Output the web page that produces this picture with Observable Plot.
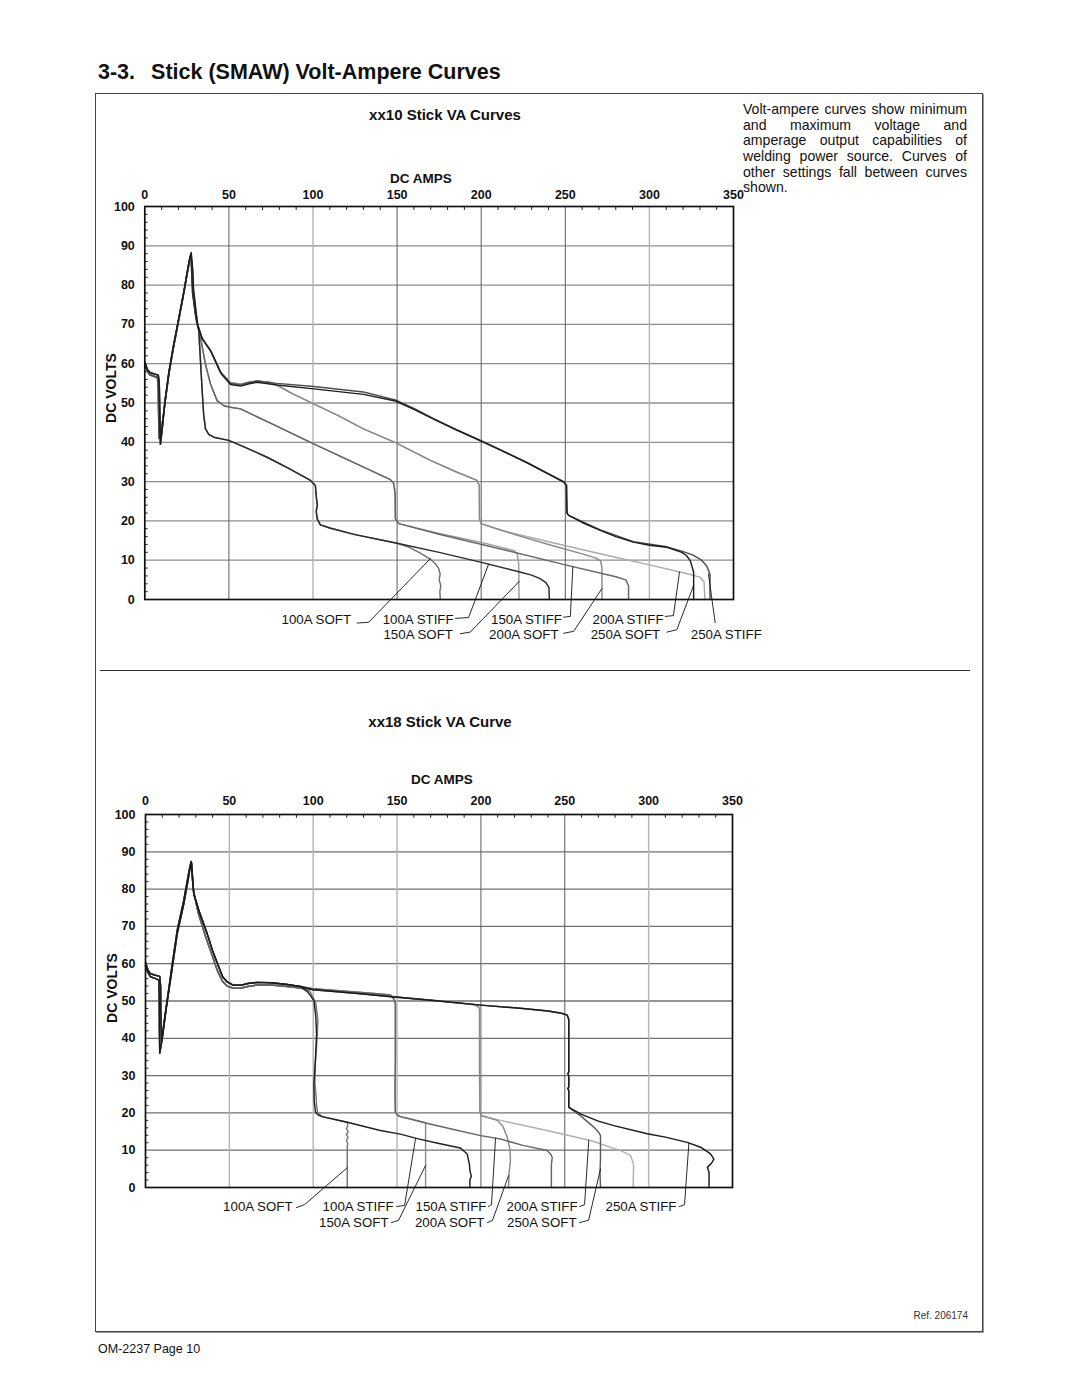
<!DOCTYPE html>
<html>
<head>
<meta charset="utf-8">
<script src="https://cdn.jsdelivr.net/npm/d3@7"></script>
<script src="https://cdn.jsdelivr.net/npm/@observablehq/plot@0.6"></script>
<style>
  body { margin: 0; background: #fff; }
  #page { position: relative; width: 1080px; height: 1397px; background: #fff;
          font-family: "Liberation Sans", Arial, Helvetica, sans-serif; color: #111; overflow: hidden; }
  .abs { position: absolute; white-space: nowrap; line-height: 1; }
  .b { font-weight: bold; }
  .para div { width: 224px; font-size: 14.1px; line-height: 15.6px; text-align: justify; text-align-last: justify; white-space: normal; }
  .para div.last { text-align-last: left; }
  .chart { position: absolute; }
</style>
</head>
<body>
<div id="page">
  <div class="abs b" style="left:98px;top:62px;font-size:21.5px;">3-3.<span style="margin-left:16px;">Stick (SMAW) Volt-Ampere Curves</span></div>
  <div class="abs" style="left:95px;top:93px;width:888px;height:1239px;box-sizing:border-box;border:1px solid #444;box-shadow:1px 1px 0 #999;"></div>
  <div class="abs" style="left:100px;top:670px;width:870px;height:0;border-top:1px solid #333;"></div>

  <div class="abs b" style="left:445px;top:107px;font-size:15px;transform:translateX(-50%);">xx10 Stick VA Curves</div>
  <div class="abs b" style="left:421px;top:171.5px;font-size:13.5px;transform:translateX(-50%);">DC AMPS</div>
  <div class="abs b" style="left:111px;top:388px;font-size:14px;transform:translate(-50%,-50%) rotate(-90deg);">DC VOLTS</div>

  <div class="abs para" style="left:743px;top:102.3px;">
    <div>Volt-ampere curves show minimum</div>
    <div>and maximum voltage and</div>
    <div>amperage output capabilities of</div>
    <div>welding power source. Curves of</div>
    <div>other settings fall between curves</div>
    <div class="last">shown.</div>
  </div>

  <div class="abs b" style="left:440px;top:713.6px;font-size:15px;transform:translateX(-50%);">xx18 Stick VA Curve</div>
  <div class="abs b" style="left:442px;top:773.4px;font-size:13.5px;transform:translateX(-50%);">DC AMPS</div>
  <div class="abs b" style="left:112px;top:988px;font-size:14px;transform:translate(-50%,-50%) rotate(-90deg);">DC VOLTS</div>

  <div class="abs" style="right:112px;top:1311px;font-size:10px;color:#333;">Ref. 206174</div>
  <div class="abs" style="left:98px;top:1343px;font-size:12.5px;">OM-2237 Page 10</div>

  <div id="top" class="chart" style="left:90px;top:160px;"></div>
  <div id="bottom" class="chart" style="left:90px;top:760px;"></div>
</div>
<script>
// ---------- axes / ticks ----------
const ampTicks = [0, 50, 100, 150, 200, 250, 300, 350];
const voltTicks = [0, 10, 20, 30, 40, 50, 60, 70, 80, 90, 100];
const voltGrid = [10, 20, 30, 40, 50, 60, 70, 80, 90];
const ampMinor = [10, 20, 30, 40, 60, 70, 80, 90, 110, 120, 130, 140, 160, 170, 180, 190, 210, 220, 230, 240, 260, 270, 280, 290, 310, 320, 330, 340];
const voltMinor = [2, 4, 6, 8, 12, 14, 16, 18, 22, 24, 26, 28, 32, 34, 36, 38, 42, 44, 46, 48, 52, 54, 56, 58, 62, 64, 66, 68, 72, 74, 76, 78, 82, 84, 86, 88, 92, 94, 96, 98];
const xx10DarkGrid = [50, 150, 200, 250];
const xx10LightGrid = [100, 300];
const xx18DarkGrid = [200, 250];
const xx18LightGrid = [50, 100, 150, 300];

const labelNames = ["100A SOFT", "100A STIFF", "150A SOFT", "150A STIFF", "200A SOFT", "200A STIFF", "250A SOFT", "250A STIFF"];

// ---------- xx10 curve pieces [amps, volts] ----------
const xx10StartA = [[0,60.5],[1.5,58.5],[3,57.8],[5.5,57.4],[8,57.1],[8.6,55],[9,45],[9.3,39.5],[10.5,44],[12,50.5],[14.3,57.8],[17,64.5],[19.6,70.2],[23.2,78.3],[25.5,84],[26.8,87],[27.6,88.2]];
const xx10StartB = [[0,60],[1.5,58],[3,57.2],[5.5,56.8],[7.5,56.5],[8,54],[8.3,45],[8.6,41],[10,43.5],[12,50],[14.3,57.3],[17,64],[19.6,69.8],[23.2,78],[25.5,83.6],[26.8,86.6],[27.4,87.6]];
const xx10Knee100 = [[27.8,84],[28.4,78],[30.3,72],[32.1,68.4],[33.2,60],[34.1,53.2],[35,47],[36.1,43.4],[38,42],[41,41.3],[49.9,40.5],[56.9,39.2],[65,37.7],[72.7,36.2],[85,33.5],[98.5,30.3],[101.4,29],[102,26],[102.6,24],[101.9,22.5],[102.5,20.5],[104.4,19]];
const xx10Knee150 = [[28,84],[28.6,78],[30.5,72],[33.1,66.7],[36,60],[39,54.9],[43,50.6],[47,49.3],[50.9,48.9],[56.9,48.5],[75,44.8],[100.4,39.6],[125,34.7],[146,30.5],[148,29.5],[148.8,27],[149,20.5],[151,19.3]];
const xx10Knee200 = [[28.1,84],[28.6,79],[29.8,74],[30.9,70.2],[33.8,66.7],[38.8,63.6],[44.8,58],[50.8,55.2],[56.9,54.8],[62,55.3],[66.8,55.6],[75,55.2],[80,54.2],[88,52.3],[100.4,49.8],[115,46.8],[130,43.4],[149,39.9],[169.8,35.4],[185,32.5],[197.5,30.3],[198.9,29],[199,20.5],[200,19.3]];
const xx10Knee250a = [[28.3,84],[28.8,79],[30,74],[31.1,70.2],[34,66.5],[39,63.4],[45,57.8],[50.9,55],[56.9,54.6],[62,55.2],[66.8,55.6],[78.7,55],[100.4,54.2],[130,52.8],[149,50.8],[160,48.6],[171.7,46],[185,43.3],[199.5,40.5],[213,37.8],[227.2,34.9],[240,32],[249,30],[250.5,29],[250.8,22],[252,21.4]];
const xx10Knee250b = [[28.5,84],[29,79],[30.3,74],[31.4,70],[34.3,66.2],[39.5,63],[45.5,57.4],[51,54.7],[57,54.3],[62,54.9],[66.8,55.3],[78.7,54.6],[100.4,53.6],[130,52.2],[149,50.5],[160,48.4],[171.7,45.9],[185,43.2],[199.5,40.4],[213,37.7],[227.2,34.8],[240,31.9],[249,29.9],[250.8,29],[251.1,22],[252,21.4]];
const xx10Tail100Soft = [[110,18.2],[125,16.5],[150,14.3],[156,13.5],[163,12],[169.7,10.3],[172.7,9.1],[174.6,8],[175.6,6.5],[175,5],[176,3.5],[175.4,2],[175.7,0]];
const xx10Tail100Stiff = [[110,18.2],[125,16.5],[150,14.3],[175,12],[199.5,9.5],[223,7.0],[230,6.2],[235,5.3],[238.5,4.3],[240.3,3],[240.5,0]];
const xx10Tail150Soft = [[175,16.8],[199.5,14.6],[211,13.4],[219.3,12.5],[221.5,11.5],[222.3,9],[222.5,0]];
const xx10Tail150Stiff = [[175,16.6],[211,12.9],[250,8.8],[280,5.8],[286,5.0],[287.6,3.5],[287.6,0]];
const xx10Tail200Soft = [[220,16.5],[240,14.0],[260,11.6],[268,10.6],[271,9.8],[271.8,8],[271.8,0]];
const xx10Tail200Stiff = [[211,17.7],[240,14.7],[270,11.7],[300,8.8],[322,6.6],[330,5.7],[332.5,4.5],[333,0]];
const xx10Tail250Soft = [[260,19.6],[270.8,17.6],[280,16],[290.5,14.6],[300,13.8],[310.4,13.3],[319.3,12.0],[322,11.2],[324.3,9.9],[326.3,7],[326.3,0]];
const xx10Tail250Stiff = [[270.8,17.7],[290.5,14.7],[310.4,13.4],[319.3,12.3],[326,11.3],[331,10],[334,8.6],[336,6.5],[336,0]];

// ---------- xx18 curve pieces [amps, volts] ----------
const xx18StartC = [[0,60.3],[1.5,58.3],[3,57.3],[6,56.9],[8.5,56.6],[9,54],[9.2,45],[9.5,39],[11,44],[12.9,50.1],[16,60],[18.9,68.9],[22.8,76.9],[25,82.5],[26.5,86],[27.2,87.4]];
const xx18StartD = [[0,59.5],[1.5,57.6],[3,56.5],[6,56],[8,55.6],[8.2,50],[8.3,42],[8.5,36],[10,40],[12.5,48.5],[16,59],[18.9,68],[22.8,76],[25,81.5],[26.5,85.5],[27.5,87]];
const xx18DescentA = [[28.8,78.7],[32,74],[36.8,68],[40,63.5],[43.7,59.1],[46,56.5],[48.7,55.1],[52,54.3],[56.6,54.2],[61,54.7],[66.6,55.0],[75,54.9],[84.5,54.4],[92.4,53.9]];
const xx18DescentB = [[28.4,80],[31.5,73.5],[36,67],[39.5,62.5],[43,58],[46,55.2],[48.7,54],[52,53.5],[56.6,53.4],[61,53.9],[66.6,54.3],[75,54.3],[84.5,53.9],[92.4,53.5]];
const xx18Knee100a = [[97,52.3],[100.4,50.1],[101.5,46],[102,41.2],[101.3,34],[100.4,27.8],[100.6,23],[101.4,20.2],[103,19.4],[105.3,19.0]];
const xx18Knee100b = [[98,52.6],[101.5,49.5],[102.8,45],[102.3,40],[101.2,33],[101,28],[101.8,24],[102,22],[102.7,20],[105.3,19.0]];
const xx18Knee150 = [[100,53.3],[125,52.4],[140,51.9],[146,51.6],[148.3,50.4],[149,49.2],[149,35],[148.8,25],[149,20.2],[150.5,19.3],[152,19.0]];
const xx18Knee200 = [[100,53.2],[125,52.3],[150,51.1],[175,50],[190,49.3],[196,49],[198.5,48.4],[199.2,47.9],[199.2,30],[199.4,20.5],[200,19.3]];
const xx18Knee250 = [[100,53.0],[125,52.1],[150,51.0],[175,50.0],[200,48.9],[225,48],[240,47.3],[248,46.7],[251.5,46.2],[252.4,45],[252.4,31],[251.8,30.5],[252.4,30],[252.4,27],[251.8,26.5],[252.4,26],[252.4,21.5]];
const xx18Tail100Soft = [[120.3,17.5],[120.6,16.5],[119.8,15.8],[120.8,15],[119.8,14.2],[120.8,13.4],[119.8,12.6],[120.6,11.8],[120.3,10.8],[120.3,0]];
const xx18Tail100Stiff = [[120.3,17.5],[140,15.3],[152,14.3],[162,13.1],[175,11.8],[187.8,10.6],[191.8,9],[193.2,6],[193.4,4.6],[194.3,3],[193.4,2],[193.4,0]];
const xx18Tail150Soft = [[160,18.2],[167,17.4],[167,0]];
const xx18Tail150Stiff = [[167,17.3],[185,15.4],[199.8,13.9],[211.7,13],[225,11.3],[239.5,9.9],[241.5,9],[242.5,8.1],[242,6],[242,0]];
const xx18Tail200Soft = [[205,18.6],[209.7,18],[213,16.5],[215.7,13.5],[217.4,10],[217.6,7.2],[216.8,4],[216.6,1.5],[216.4,0]];
const xx18Tail200Stiff = [[211.7,18.0],[240,15.2],[265.4,12.6],[283.2,9.9],[289.2,8.6],[291,6.3],[290.8,0]];
const xx18Tail250Soft = [[260,19],[267.3,16.2],[270.5,14.6],[271.3,13.9],[271.3,8],[271,4],[271.3,0]];
const xx18Tail250Stiff = [[260,19.6],[270,17.8],[279.2,16.6],[299.2,14.4],[310,13.5],[323,12.1],[331,10.8],[336.9,9.0],[338.9,7.6],[337.5,6.5],[335,5.4],[336,4.1],[336,0]];

// ---------- label anchors (amps, volts) in labelNames order ----------
const xx10LabelAmps = [122.6, 183.6, 183.2, 248.0, 246.0, 308.4, 306.4, 366.8];
const xx10LabelVolts = [-5.1, -5.1, -8.9, -5.1, -8.9, -5.1, -8.9, -8.9];
const xx10Leaders = [
  [[126.2,-6.0],[133.1,-5.8],[169.8,10.4]],
  [[184.6,-4.8],[192.5,-4.6],[204.4,9.0]],
  [[187.6,-8.7],[193.5,-8.3],[222.6,4.6]],
  [[249.0,-4.5],[253.0,-4.3],[254.5,8.3]],
  [[249.0,-8.6],[255.0,-8.1],[271.8,2.8]],
  [[309.4,-4.3],[314.3,-4.1],[317.9,7.0]],
  [[310.4,-8.3],[316.3,-7.7],[326.3,3.6]],
  [[339.1,-5.9],[335.1,6.5]]
];
const xx18LabelAmps = [87.7, 147.9, 144.9, 203.3, 202.1, 257.6, 257.0, 316.6];
const xx18LabelVolts = [-5.1, -5.1, -9.4, -5.1, -9.4, -5.1, -9.4, -5.1];
const xx18Leaders = [
  [[90.0,-5.4],[94.8,-4.6],[120.3,5.3]],
  [[149.7,-5.1],[154.5,-4.8],[161.0,13.1]],
  [[146.7,-9.4],[150.9,-8.8],[167.0,5.9]],
  [[204.5,-5.1],[206.3,-4.6],[208.7,13.1]],
  [[203.9,-9.4],[206.9,-8.8],[216.5,3.2]],
  [[258.8,-5.1],[261.8,-4.6],[264.3,12.6]],
  [[258.8,-9.4],[264.2,-8.8],[271.3,5.0]],
  [[318.4,-5.1],[321.4,-4.6],[324.0,11.9]]
];

// ---------- series assembly ----------
const xx10Series = {
  "100A SOFT":  [xx10StartB, xx10Knee100, xx10Tail100Soft],
  "100A STIFF": [xx10StartA, xx10Knee100, xx10Tail100Stiff],
  "150A SOFT":  [xx10StartA, xx10Knee150, xx10Tail150Soft],
  "150A STIFF": [xx10StartB, xx10Knee150, xx10Tail150Stiff],
  "200A SOFT":  [xx10StartB, xx10Knee200, xx10Tail200Soft],
  "200A STIFF": [xx10StartA, xx10Knee200, xx10Tail200Stiff],
  "250A SOFT":  [xx10StartA, xx10Knee250b, xx10Tail250Soft],
  "250A STIFF": [xx10StartB, xx10Knee250a, xx10Tail250Stiff]
};
const xx18Series = {
  "100A SOFT":  [xx18StartD, xx18DescentB, xx18Knee100b, xx18Tail100Soft],
  "100A STIFF": [xx18StartC, xx18DescentA, xx18Knee100a, xx18Tail100Stiff],
  "150A SOFT":  [xx18StartD, xx18DescentB, xx18Knee150, xx18Tail150Soft],
  "150A STIFF": [xx18StartC, xx18DescentA, xx18Knee150, xx18Tail150Stiff],
  "200A SOFT":  [xx18StartD, xx18DescentB, xx18Knee200, xx18Tail200Soft],
  "200A STIFF": [xx18StartC, xx18DescentA, xx18Knee200, xx18Tail200Stiff],
  "250A SOFT":  [xx18StartC, xx18DescentB, xx18Knee250, xx18Tail250Soft],
  "250A STIFF": [xx18StartD, xx18DescentA, xx18Knee250, xx18Tail250Stiff]
};
// drawing styles (lightest drawn first)
const xx10Style = [
  ["200A STIFF", "#ababab"], ["150A SOFT", "#9c9c9c"], ["200A SOFT", "#8a8a8a"], ["100A SOFT", "#707070"],
  ["150A STIFF", "#666666"], ["250A STIFF", "#4e4e4e"], ["100A STIFF", "#2b2b2b"], ["250A SOFT", "#1e1e1e"]
];
const xx18Style = [
  ["200A STIFF", "#b0b0b0"], ["150A SOFT", "#8e8e8e"], ["200A SOFT", "#8a8a8a"], ["100A SOFT", "#767676"],
  ["150A STIFF", "#666666"], ["250A SOFT", "#5e5e5e"], ["100A STIFF", "#202020"], ["250A STIFF", "#1a1a1a"]
];

function chart(cfg) {
  const labelRows = labelNames.map((n, i) => ({name: n, A: cfg.labelAmps[i], V: cfg.labelVolts[i]}));
  const marks = [
    Plot.ruleY(voltGrid, {stroke: cfg.hGrid, strokeWidth: 1.3}),
    Plot.ruleX(cfg.lightGrid, {stroke: "#b4b4b4", strokeWidth: 1.4}),
    Plot.ruleX(cfg.darkGrid, {stroke: "#5c5c5c", strokeWidth: 1}),
    Plot.ruleX(ampMinor, {x: d => d, y1: 100, y2: 99, stroke: "#222", strokeWidth: 1}),
    Plot.ruleY(voltMinor, {y: d => d, x1: 0, x2: 2, stroke: "#222", strokeWidth: 1}),
    Plot.axisX(ampTicks, {anchor: "top", tickSize: 0, tickPadding: cfg.xPad, fontSize: 12.5, label: null}),
    Plot.axisY(voltTicks, {anchor: "left", tickSize: 0, tickPadding: 10, fontSize: 12.5, label: null})
  ];
  for (const [name, color] of cfg.style) {
    const pts = cfg.series[name].flat();
    marks.push(Plot.line(pts, {x: d => d[0], y: d => d[1], stroke: color, strokeWidth: 1.45, strokeLinejoin: "round", strokeLinecap: "round"}));
  }
  marks.push(Plot.frame({stroke: "#111", strokeWidth: 1.7}));
  cfg.leaders.forEach(l => marks.push(Plot.line(l, {x: d => d[0], y: d => d[1], stroke: "#111", strokeWidth: 0.9})));
  marks.push(Plot.text(labelRows, {x: "A", y: "V", text: "name", textAnchor: "end", fontSize: 13.3, fontWeight: "normal", fill: "#111"}));
  return Plot.plot({
    width: 700, height: cfg.height,
    marginLeft: cfg.ml, marginRight: cfg.mr, marginTop: cfg.mt, marginBottom: cfg.mb,
    x: {domain: [0, 350]},
    y: {domain: [0, 100]},
    style: {fontFamily: "'Liberation Sans', Arial, Helvetica, sans-serif", fontWeight: "bold", color: "#111", background: "transparent", overflow: "visible"},
    marks
  });
}

document.getElementById("top").append(chart({
  height: 490, ml: 54.3, mr: 57, mt: 46, mb: 51, xPad: 7.5, hGrid: "#8e8e8e",
  lightGrid: xx10LightGrid, darkGrid: xx10DarkGrid, series: xx10Series, style: xx10Style,
  labelAmps: xx10LabelAmps, labelVolts: xx10LabelVolts, leaders: xx10Leaders
}));
document.getElementById("bottom").append(chart({
  height: 480, ml: 55, mr: 58, mt: 54, mb: 53, xPad: 9.5, hGrid: "#707070",
  lightGrid: xx18LightGrid, darkGrid: xx18DarkGrid, series: xx18Series, style: xx18Style,
  labelAmps: xx18LabelAmps, labelVolts: xx18LabelVolts, leaders: xx18Leaders
}));
</script>
</body>
</html>
